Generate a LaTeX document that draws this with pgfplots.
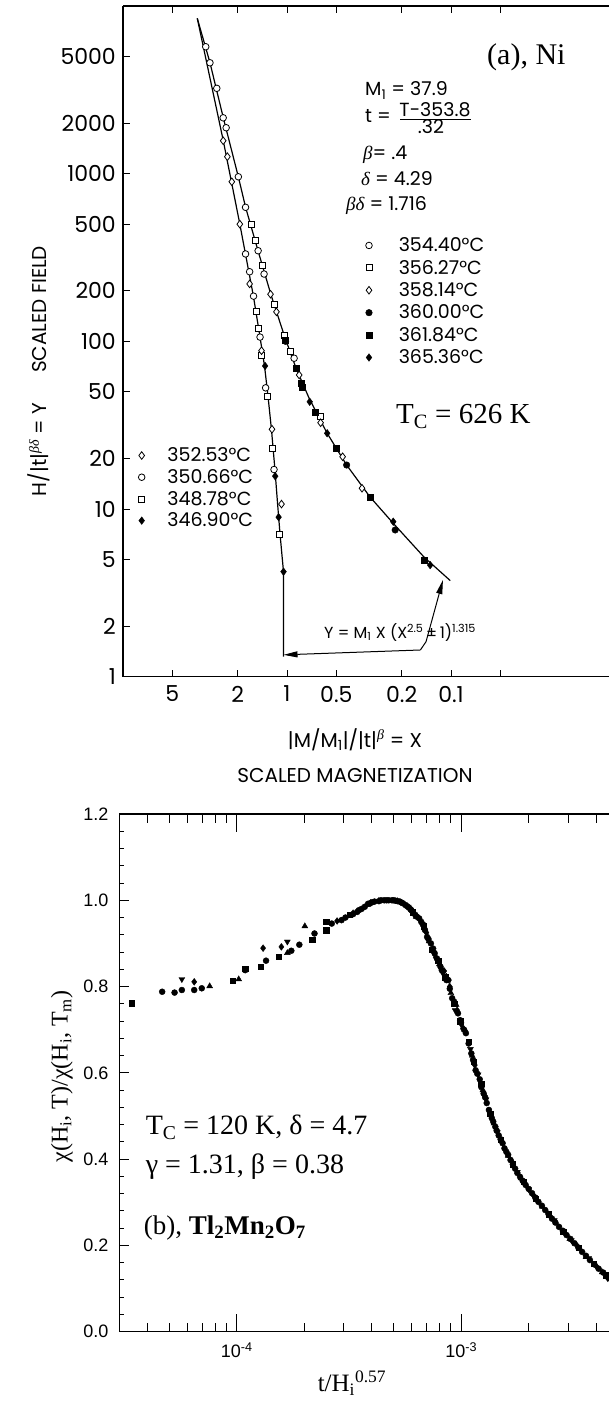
\documentclass[border=0pt]{standalone}
\usepackage{fontspec}
\setmainfont{Liberation Serif}
\newfontfamily\pop{Poppins}
\newfontfamily\arial{Liberation Sans}
\newcommand{\gb}{{\rmfamily\itshape β}}
\newcommand{\gd}{{\rmfamily\itshape δ}}
\usepackage{pgfplots}
\pgfplotsset{compat=1.18}
\usetikzlibrary{arrows.meta}

\pgfplotsset{
  opencirc/.style={only marks, mark=*, mark size=3.3pt, mark options={solid, fill=white, draw=black, line width=0.8pt}},
  opensq/.style={only marks, mark=square*, mark size=3pt, mark options={solid, fill=white, draw=black, line width=0.8pt}},
  opendia/.style={only marks, mark=diamond*, mark size=3.8pt, mark options={solid, fill=white, draw=black, line width=0.8pt}},
  fillcirc/.style={only marks, mark=*, mark size=3.3pt, mark options={solid, fill=black, draw=black}},
  fillsq/.style={only marks, mark=square*, mark size=3pt, mark options={solid, fill=black, draw=black}},
  filldia/.style={only marks, mark=diamond*, mark size=3.8pt, mark options={solid, fill=black, draw=black}},
  bc/.style={only marks, mark=*, mark size=3pt, mark options={fill=black, draw=black}},
  bs/.style={only marks, mark=square*, mark size=2.7pt, mark options={fill=black, draw=black}},
  btu/.style={only marks, mark=triangle*, mark size=3.4pt, mark options={fill=black, draw=black}},
  btd/.style={only marks, mark=triangle*, mark size=3.4pt, mark options={fill=black, draw=black, rotate=180}},
  bd/.style={only marks, mark=diamond*, mark size=3.4pt, mark options={fill=black, draw=black}},
}

\begin{document}
\begin{tikzpicture}
\path[use as bounding box] (0pt,0pt) rectangle (609pt,1402pt);

% ---------------- Panel (a) ----------------
\begin{axis}[
  at={(123pt,725.3pt)}, anchor=south west, scale only axis,
  width=486pt, height=670.7pt,
  xmode=log, ymode=log, x dir=reverse,
  xmin=0.01088, xmax=10, ymin=1, ymax=10000,
  axis y line*=left,
  axis line style={line width=1.1pt},
  clip mode=individual,
  tick align=inside, major tick length=7pt, minor tick length=0pt,
  every tick/.style={black, line width=1pt},
  xtick={5,2,1,0.5,0.2,0.1,0.05}, xticklabels={5,2,1,0.5,0.2,0.1,{}},
  ytick={1,2,5,10,20,50,100,200,500,1000,2000,5000},
  yticklabels={1,2,5,10,20,50,100,200,500,1000,2000,5000},
  ticklabel style={font=\pop\fontsize{22}{22}\selectfont, inner sep=0pt},
  xticklabel style={anchor=north, yshift=-9pt},
  yticklabel style={anchor=east, xshift=-7pt},
  xlabel={|M/M\textsubscript{1}|/|t|\textsuperscript{\gb} = X\\SCALED MAGNETIZATION},
  xlabel style={font=\pop\fontsize{20}{35}\selectfont, align=center, at={(axis description cs:0.4774,-0.1175)}, anchor=center},
  ylabel={H/|t|\textsuperscript{\gb\gd} = Y\hspace{30pt}SCALED FIELD},
  ylabel style={font=\pop\fontsize{20}{20}\selectfont, at={(axis description cs:-0.1733,0.4558)}, anchor=center},
  legend style={draw=none, fill=none, at={(axis description cs:0.4928,0.6629)}, anchor=north west,
    font=\pop\fontsize{19}{19}\selectfont, row sep=0pt,
    nodes={inner sep=0pt, minimum height=22.4pt},
    /tikz/every odd column/.append style={column sep=26.5pt}},
  legend cell align=left,
]
\addlegendimage{opencirc}\addlegendentry{354.40°C}
\addlegendimage{opensq}\addlegendentry{356.27°C}
\addlegendimage{opendia}\addlegendentry{358.14°C}
\addlegendimage{fillcirc}\addlegendentry{360.00°C}
\addlegendimage{fillsq}\addlegendentry{361.84°C}
\addlegendimage{filldia}\addlegendentry{365.36°C}

% lower branch (steep)
\addplot[black, line width=1.2pt, no marks, forget plot] coordinates {
(3.524,8436) (2.446,1571) (1.940,500.6) (1.603,186.3) (1.461,106.1) (1.371,71.2)
(1.306,47.2) (1.243,29.6) (1.184,17.1) (1.141,10.7) (1.103,7.10) (1.050,4.21) (1.050,1.316)};
% upper branch
\addplot[black, line width=1.2pt, no marks, forget plot] coordinates {
(3.524,8436) (2.948,4584) (2.446,2154) (1.981,958.4) (1.788,629.5) (1.502,346.9)
(1.256,191.4) (1.037,107.6) (0.8813,69.3) (0.7340,45.9) (0.5704,28.4) (0.4330,18.3)
(0.3118,11.8) (0.2258,8.25) (0.1461,5.17) (0.1010,3.74)};

\addplot[opencirc, forget plot] coordinates {
(3.13,5714) (2.95,4585) (2.68,3228) (2.45,2153) (2.35,1879) (1.98,958) (1.79,630)
(1.50,347) (1.79,332) (1.69,260) (1.38,252) (1.60,186) (1.46,106) (0.905,79.3)
(1.35,52.8) (1.20,17.2)};
\addplot[opensq, forget plot] coordinates {
(1.66,500) (1.56,402) (1.41,282) (1.20,165) (1.54,150) (1.49,120) (1.04,108)
(1.43,82.6) (1.31,47.2) (1.22,23.0) (1.11,7.06) (0.955,86.7) (0.624,35.5)};
\addplot[opendia, forget plot] coordinates {
(2.45,1571) (2.31,1262) (2.17,895) (1.94,500) (1.69,220) (1.26,191) (1.16,150)
(1.43,87.9) (1.235,29.9) (1.08,10.7) (0.843,63) (0.624,32.7) (0.458,20.5) (0.349,13.3)};
\addplot[fillcirc, forget plot] coordinates {(1.02,100) (0.433,18.3) (0.219,7.5)};
\addplot[fillsq, forget plot] coordinates {
(1.02,101.7) (0.880,69) (0.820,56.1) (0.811,53.6) (0.670,38.0) (0.502,23.0) (0.313,11.8) (0.146,4.97)};
\addplot[filldia, forget plot] coordinates {
(1.36,71.3) (1.18,15.7) (1.125,8.94) (1.05,4.23) (0.727,43.6) (0.569,28.3) (0.225,8.4) (0.134,4.63)};

\draw[line width=1pt, -{Triangle[length=14pt,width=6pt]}] (axis cs:0.1537,1.443) -- (axis cs:1.05,1.35);
\draw[line width=1pt, -{Triangle[length=14pt,width=6pt]}] (axis cs:0.1537,1.443) -- (axis cs:0.142,1.617) -- (axis cs:0.112,3.77);
\end{axis}

% second legend of panel (a)
\begin{axis}[
  at={(123pt,725.3pt)}, anchor=south west, scale only axis,
  width=486pt, height=670.7pt,
  xmode=log, ymode=log, x dir=reverse,
  xmin=0.01088, xmax=10, ymin=1, ymax=10000, hide axis,
  legend style={draw=none, fill=none, at={(axis description cs:0.0251,0.3492)}, anchor=north west,
    font=\pop\fontsize{19}{19}\selectfont, row sep=0pt,
    nodes={inner sep=0pt, minimum height=21.7pt},
    /tikz/every odd column/.append style={column sep=22.5pt}},
  legend cell align=left,
]
\addlegendimage{opendia}\addlegendentry{352.53°C}
\addlegendimage{opencirc}\addlegendentry{350.66°C}
\addlegendimage{opensq}\addlegendentry{348.78°C}
\addlegendimage{filldia}\addlegendentry{346.90°C}
\end{axis}

\node[anchor=base west, inner sep=0pt, font=\fontsize{30}{30}\selectfont] at (487pt,1337pt) {(a), Ni};
\node[anchor=base west, inner sep=0pt, font=\fontsize{29}{29}\selectfont] at (396pt,978.7pt) {T\textsubscript{C} = 626 K};
\begin{scope}[every node/.style={anchor=base west, inner sep=0pt, font=\pop\fontsize{19}{19}\selectfont}]
\node at (365pt,1306pt) {M\textsubscript{1} = 37.9};
\node at (365pt,1279pt) {t =};
\node[anchor=base] at (435pt,1285.3pt) {T-353.8};
\node[anchor=base] at (431pt,1268pt) {.32};
\node at (363pt,1242.7pt) {\gb= .4};
\node at (361pt,1216pt) {\gd\ = 4.29};
\node at (346pt,1191.3pt) {\gb\gd\ = 1.716};
\end{scope}
\draw[line width=0.9pt] (400pt,1283pt) -- (471pt,1283pt);
\node[anchor=base west, inner sep=0pt, font=\pop\fontsize{16}{16}\selectfont] at (324pt,763.7pt) {Y = M\textsubscript{1} X (X\textsuperscript{2.5}\,±\,1)\textsuperscript{1.315}};

% ---------------- Panel (b) ----------------
\begin{axis}[
  at={(119.5pt,70.3pt)}, anchor=south west, scale only axis,
  width=489.5pt, height=517.7pt,
  xmode=log, xmin=3e-5, xmax=4.56e-3, ymin=0, ymax=1.2,
  axis y line*=left,
  axis line style={line width=1.3pt},
  tick align=inside, major tick length=10pt, minor tick length=5pt,
  every tick/.style={black, line width=1pt},
  xtick=\empty,
  ytick={0,0.2,0.4,0.6,0.8,1.0,1.2},
  yticklabels={0.0,0.2,0.4,0.6,0.8,1.0,1.2},
  minor y tick num=4,
  yticklabel style={font=\arial\fontsize{18}{18}\selectfont, inner sep=0pt, anchor=east, xshift=-11pt},
  ylabel={χ(H\textsubscript{i}, T)/χ(H\textsubscript{i}, T\textsubscript{m})},
  ylabel style={font=\fontsize{24}{24}\selectfont, at={(axis description cs:-0.1175,0.493)}, anchor=center},
]
\addplot[bc] coordinates {
(4.65e-5,0.788) (5.28e-5,0.786) (5.69e-5,0.792) (6.46e-5,0.792) (6.98e-5,0.796)
(1.09e-4,0.838) (1.35e-4,0.860) (1.75e-4,0.883) (1.9e-4,0.897) (2.22e-4,0.923)
(2.65e-4,0.946) (2.93e-4,0.954) (3.05e-4,0.960) (3.3e-4,0.968) (3.44e-4,0.973)
(3.5e-4,0.977) (3.6e-4,0.980) (3.72e-4,0.985) (3.85e-4,0.992) (3.9e-4,0.992)
(4.0e-4,0.995) (4.11e-4,0.997) (4.3e-4,0.998) (4.4e-4,1.0) (4.54e-4,1.000)
(4.65e-4,1.0) (4.75e-4,1.000) (4.92e-4,1.000) (5.0e-4,1.0) (5.1e-4,0.999)
(5.2e-4,0.998) (5.33e-4,0.997) (5.4e-4,0.995) (5.5e-4,0.993) (5.65e-4,0.989)
(5.75e-4,0.986) (5.85e-4,0.983) (5.95e-4,0.979) (6.0e-4,0.977) (6.1e-4,0.973)
(6.25e-4,0.966) (6.35e-4,0.962) (6.5e-4,0.958) (6.64e-4,0.950) (6.75e-4,0.944)
(6.9e-4,0.931) (7.05e-4,0.915) (7.15e-4,0.91) (7.33e-4,0.900) (7.5e-4,0.888)
(7.62e-4,0.877) (7.8e-4,0.865) (8.09e-4,0.846) (8.2e-4,0.838) (8.6e-4,0.815)
(8.77e-4,0.815) (8.9e-4,0.795) (9.12e-4,0.773) (9.3e-4,0.765) (9.68e-4,0.738)
(9.9e-4,0.722) (1.03e-3,0.70) (1.05e-3,0.692) (1.08e-3,0.668) (1.11e-3,0.645)
(1.13e-3,0.630) (1.16e-3,0.606) (1.18e-3,0.598) (1.21e-3,0.585) (1.23e-3,0.567)
(1.26e-3,0.552) (1.28e-3,0.543) (1.30e-3,0.530) (1.33e-3,0.514) (1.35e-3,0.505)
(1.37e-3,0.495) (1.39e-3,0.487) (1.42e-3,0.475) (1.44e-3,0.466) (1.47e-3,0.455)
(1.5e-3,0.446) (1.53e-3,0.437) (1.56e-3,0.425) (1.59e-3,0.417) (1.62e-3,0.410)
(1.66e-3,0.398) (1.70e-3,0.388) (1.74e-3,0.378) (1.78e-3,0.368) (1.83e-3,0.359)
(1.88e-3,0.350) (1.94e-3,0.340) (2.0e-3,0.331) (2.07e-3,0.321) (2.14e-3,0.311)
(2.21e-3,0.301) (2.29e-3,0.292) (2.37e-3,0.282) (2.45e-3,0.273) (2.54e-3,0.262)
(2.63e-3,0.253) (2.73e-3,0.243) (2.84e-3,0.234) (2.95e-3,0.224) (3.07e-3,0.215)
(3.2e-3,0.205) (3.33e-3,0.195) (3.46e-3,0.185) (3.6e-3,0.176) (3.75e-3,0.166)
(3.92e-3,0.156) (4.1e-3,0.146) (4.3e-3,0.137) (4.5e-3,0.127) (4.56e-3,0.124)};
\addplot[bs] coordinates {
(3.41e-5,0.761) (9.6e-5,0.813) (1.09e-4,0.842) (1.28e-4,0.846) (1.54e-4,0.869)
(2.17e-4,0.908) (2.5e-4,0.931) (2.5e-4,0.950) (3.18e-4,0.966) (6.1e-4,0.972)
(6.8e-4,0.940) (7.4e-4,0.885) (7.9e-4,0.860) (8.5e-4,0.822) (9.3e-4,0.760)
(9.9e-4,0.720) (1.08e-3,0.672) (1.14e-3,0.626) (1.23e-3,0.575) (1.35e-3,0.505)
(1.5e-3,0.445) (1.7e-3,0.388) (1.9e-3,0.347) (2.15e-3,0.308) (2.45e-3,0.272)
(2.85e-3,0.232) (3.35e-3,0.195) (3.9e-3,0.158) (4.4e-3,0.131)};
\addplot[btu] coordinates {
(7.57e-5,0.801) (1.02e-4,0.817) (1.68e-4,0.878) (2.01e-4,0.940) (4.3e-4,0.999)
(5.2e-4,0.998) (6.3e-4,0.962) (7.2e-4,0.905) (8.0e-4,0.852) (8.6e-4,0.823)
(9.0e-4,0.785) (9.5e-4,0.758) (1.02e-3,0.705) (1.12e-3,0.640) (1.25e-3,0.560)
(1.4e-3,0.483) (1.62e-3,0.408) (1.85e-3,0.356) (2.3e-3,0.290) (2.65e-3,0.252)
(3.05e-3,0.215) (3.6e-3,0.173) (4.25e-3,0.138)};
\addplot[btd] coordinates {
(5.69e-5,0.817) (1.68e-4,0.904) (5.8e-4,0.985) (6.7e-4,0.945) (7.5e-4,0.880)
(8.3e-4,0.830) (9.4e-4,0.745) (1.0e-3,0.712) (1.1e-3,0.655) (1.19e-3,0.596)
(1.29e-3,0.538) (1.45e-3,0.462) (1.78e-3,0.370) (2.0e-3,0.330) (2.6e-3,0.258)
(3.1e-3,0.212) (3.7e-3,0.170) (4.5e-3,0.124)};
\addplot[bd] coordinates {
(6.46e-5,0.811) (1.31e-4,0.889) (1.58e-4,0.892) (2.8e-4,0.952) (3.3e-4,0.970)
(3.95e-4,0.994) (6.15e-4,0.970) (7.0e-4,0.925) (7.7e-4,0.868) (8.4e-4,0.836)
(8.9e-4,0.800) (9.6e-4,0.745) (1.04e-3,0.698) (1.15e-3,0.618) (1.27e-3,0.548)
(1.44e-3,0.467) (1.68e-3,0.395) (2.1e-3,0.316) (2.5e-3,0.267) (2.9e-3,0.228)
(3.3e-3,0.198) (4.0e-3,0.152)};
\end{axis}

% x ticks of panel (b)
\begin{axis}[
  at={(119.5pt,70.3pt)}, anchor=south west, scale only axis,
  width=489.5pt, height=517.7pt,
  xmode=log, xmin=3e-5, xmax=4.56e-3, ymin=0, ymax=1.2,
  hide y axis,
  axis line style={line width=1.3pt},
  tick align=inside, major tick length=17.7pt, minor tick length=9pt,
  every tick/.style={black, line width=1pt},
  xtick={1e-4,1e-3}, xticklabels={10\textsuperscript{-4},10\textsuperscript{-3}},
  minor xtick={4e-5,5e-5,6e-5,7e-5,8e-5,9e-5,2e-4,3e-4,4e-4,5e-4,6e-4,7e-4,8e-4,9e-4,2e-3,3e-3,4e-3},
  xticklabel style={font=\arial\fontsize{18}{18}\selectfont, inner sep=0pt, anchor=north, yshift=-11pt},
  xlabel={t/H\textsubscript{i}\textsuperscript{0.57}},
  xlabel style={font=\fontsize{25}{25}\selectfont, at={(axis description cs:0.475,-0.1159)}, anchor=base},
]
\end{axis}

\node[anchor=base west, inner sep=0pt, font=\fontsize{28}{28}\selectfont] at (145.6pt,267pt) {T\textsubscript{C} = 120 K, δ = 4.7};
\node[anchor=base west, inner sep=0pt, font=\fontsize{28}{28}\selectfont] at (145.6pt,228.7pt) {γ = 1.31, β = 0.38};
\node[anchor=base west, inner sep=0pt, font=\fontsize{27}{27}\selectfont] at (143.7pt,167pt) {(b), \textbf{Tl\textsubscript{2}Mn\textsubscript{2}O\textsubscript{7}}};
\end{tikzpicture}
\end{document}
